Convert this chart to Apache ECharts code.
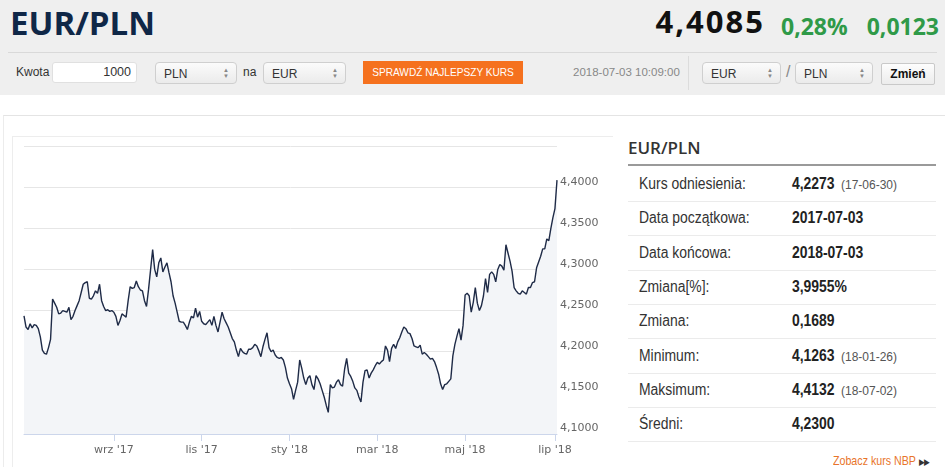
<!DOCTYPE html>
<html>
<head>
<meta charset="utf-8">
<title>EUR/PLN</title>
<script src="https://cdn.jsdelivr.net/npm/echarts/dist/echarts.min.js"></script>
<style>
  body { margin:0; width:945px; height:467px; overflow:hidden; background:#fff; position:relative;
         font-family:"Liberation Sans", Arial, sans-serif; }
  .a { position:absolute; white-space:nowrap; line-height:1; }
  .sq { display:inline-block; transform-origin:0 50%; }
  .sel { position:absolute; box-sizing:border-box; height:22px; border:1px solid #cfcfcf; border-radius:4px;
         background:linear-gradient(#fbfbfb,#ebebeb); font-size:12px; color:#333; }
  .sel span { position:absolute; left:8px; top:4px; }
  .sel i { position:absolute; right:7px; top:4px; font-style:normal; font-size:6px; line-height:6px; color:#888; }
  #panel .row { position:absolute; left:628px; width:308px; height:34px; border-bottom:1px solid #ebebeb; }
  #panel .row b, #panel .row em, #panel .row span { position:absolute; top:50%; transform-origin:0 50%; }
  #panel .row span { left:11px; font-size:16px; color:#333; transform:translateY(-50%) scaleX(0.87); }
  #panel .row b { left:164px; font-size:16px; color:#222; transform:translateY(-50%) scaleX(0.87); }
  #panel .row em { left:213px; font-style:normal; font-size:12.5px; color:#555; transform:translateY(-45%) scaleX(0.96); }
</style>
</head>
<body>
<!-- naglowek -->
<div class="a" style="left:0;top:0;width:945px;height:95px;background:#efefef"></div>
<div class="a" style="left:10px;top:5.5px;font:700 33px/1 'Open Sans';color:#0f2747">EUR/PLN</div>
<div class="a" style="right:180px;top:5.5px;font:700 31px/1 'Open Sans';color:#111;letter-spacing:2px">4,4085</div>
<div class="a" style="left:781px;top:14.5px;font:700 23px/1 'Open Sans';color:#2f9a48">0,28%</div>
<div class="a" style="right:6px;top:14.5px;font:700 23px/1 'Open Sans';color:#2f9a48">0,0123</div>
<div class="a" style="left:8px;top:52px;width:929px;height:1px;background:#d9d9d9"></div>

<div class="a" style="left:16px;top:66px;font-size:12px;color:#333">Kwota</div>
<div class="a" style="left:52px;top:62px;width:85px;height:21px;box-sizing:border-box;background:#fff;border:1px solid #e0e0e0;border-radius:3px"></div>
<div class="a" style="right:814px;top:66px;font-size:12.5px;color:#333">1000</div>
<div class="sel" style="left:155px;top:62px;width:82px"><span>PLN</span><i>▲<br>▼</i></div>
<div class="a" style="left:243px;top:66px;font-size:12px;color:#333">na</div>
<div class="sel" style="left:263px;top:62px;width:83px"><span>EUR</span><i>▲<br>▼</i></div>
<div class="a" style="left:363px;top:61px;width:160px;height:23px;background:#f5711e;color:#fff;font-size:11px;line-height:23px;text-align:center"><span class="sq" style="transform:scaleX(0.92);transform-origin:50% 50%">SPRAWDŹ NAJLEPSZY KURS</span></div>
<div class="a" style="left:573px;top:67px;font-size:11.5px;color:#888">2018-07-03 10:09:00</div>
<div class="a" style="left:688px;top:56px;width:1px;height:34px;background:#dcdcdc"></div>
<div class="sel" style="left:702px;top:62px;width:79px"><span>EUR</span><i>▲<br>▼</i></div>
<div class="a" style="left:786px;top:64px;font-size:16px;color:#888">/</div>
<div class="sel" style="left:795px;top:62px;width:78px"><span>PLN</span><i>▲<br>▼</i></div>
<div class="a" style="left:881px;top:63px;width:54px;height:22px;box-sizing:border-box;border:1px solid #c9c9c9;border-radius:2px;background:linear-gradient(#fdfdfd,#ececec);font-size:12px;font-weight:bold;line-height:20px;text-align:center;color:#111">Zmień</div>

<!-- ramki -->
<div class="a" style="left:3px;top:115px;width:942px;height:360px;border-top:1px solid #e4e4e4;border-left:1px solid #ececec"></div>
<div class="a" style="left:12px;top:136px;width:600px;height:340px;border-top:1px solid #ededed;border-left:1px solid #ededed"></div>

<div id="chart" class="a" style="left:12px;top:136px;width:600px;height:331px"></div>

<!-- tabela -->
<div id="panel">
  <div class="a" style="left:628px;top:139px;font:600 17px/1 'Open Sans';color:#333">EUR/PLN</div>
  <div class="a" style="left:628px;top:164px;width:308px;height:2px;background:#9a9a9a"></div>
</div>
<div class="a" style="left:833px;top:454px;font-size:13px;color:#e8742a"><span class="sq" style="transform:scaleX(0.82)">Zobacz kurs NBP <span style="color:#333;font-size:9px">▶▶</span></span></div>

<script>
// kurs EUR/PLN, dni robocze 2017-07-03 .. 2018-07-03
var startDate = "2017-07-03";
var endDate = "2018-07-03";
var eurPln = [
  4.2435, 4.230, 4.227, 4.234, 4.229, 4.233, 4.232, 4.228, 4.218, 4.202,
  4.198, 4.197, 4.205, 4.215, 4.264, 4.259, 4.254, 4.246, 4.247, 4.250,
  4.249, 4.248, 4.254, 4.239, 4.243, 4.250, 4.256, 4.262, 4.272, 4.282,
  4.284, 4.285, 4.265, 4.264, 4.268, 4.274, 4.271, 4.282, 4.262, 4.255,
  4.250, 4.251, 4.249, 4.250, 4.248, 4.243, 4.232, 4.238, 4.246, 4.244,
  4.242, 4.262, 4.279, 4.277, 4.278, 4.286, 4.279, 4.275, 4.274, 4.262,
  4.255, 4.276, 4.300, 4.324, 4.300, 4.291, 4.308, 4.314, 4.297, 4.303,
  4.308, 4.296, 4.285, 4.268, 4.259, 4.248, 4.237, 4.236, 4.236, 4.232,
  4.227, 4.236, 4.243, 4.241, 4.253, 4.242, 4.249, 4.237, 4.234, 4.233,
  4.236, 4.239, 4.232, 4.243, 4.232, 4.224, 4.236, 4.248, 4.240, 4.235,
  4.230, 4.223, 4.216, 4.212, 4.202, 4.194, 4.204, 4.200, 4.198, 4.197,
  4.203, 4.203, 4.205, 4.209, 4.207, 4.201, 4.194, 4.206, 4.215, 4.223,
  4.205, 4.200, 4.202, 4.196, 4.193, 4.192, 4.193, 4.190, 4.181, 4.168,
  4.161, 4.155, 4.142, 4.153, 4.163, 4.190, 4.180, 4.168, 4.160, 4.168,
  4.171, 4.160, 4.154, 4.171, 4.167, 4.161, 4.153, 4.145, 4.135, 4.1263,
  4.160, 4.156, 4.157, 4.163, 4.166, 4.160, 4.158, 4.179, 4.192, 4.174,
  4.170, 4.164, 4.156, 4.153, 4.145, 4.139, 4.163, 4.177, 4.178, 4.168,
  4.174, 4.178, 4.183, 4.187, 4.185, 4.188, 4.190, 4.207, 4.202, 4.188,
  4.204, 4.209, 4.204, 4.212, 4.217, 4.224, 4.230, 4.228, 4.223, 4.222,
  4.216, 4.207, 4.206, 4.205, 4.208, 4.197, 4.199, 4.197, 4.194, 4.191,
  4.192, 4.188, 4.181, 4.173, 4.161, 4.154, 4.160, 4.161, 4.164, 4.167,
  4.195, 4.209, 4.219, 4.228, 4.214, 4.232, 4.269, 4.271, 4.268, 4.248,
  4.260, 4.278, 4.259, 4.250, 4.256, 4.268, 4.289, 4.272, 4.294, 4.297,
  4.294, 4.285, 4.300, 4.306, 4.304, 4.299, 4.330, 4.320, 4.310, 4.298,
  4.278, 4.274, 4.271, 4.270, 4.274, 4.272, 4.270, 4.278, 4.278, 4.284,
  4.285, 4.302, 4.309, 4.316, 4.325, 4.325, 4.337, 4.335, 4.350, 4.363,
  4.374, 4.4085
];
var tickDates = ["2017-09-01", "2017-11-01", "2018-01-01", "2018-03-01", "2018-05-01", "2018-07-02"];
var tickLabels = ["wrz '17", "lis '17", "sty '18", "mar '18", "maj '18", "lip '18"];
var statLabels = ["Kurs odniesienia:", "Data początkowa:", "Data końcowa:", "Zmiana[%]:", "Zmiana:", "Minimum:", "Maksimum:", "Średni:"];
var statValues = ["4,2273", "2017-07-03", "2018-07-03", "3,9955%", "0,1689", "4,1263", "4,4132", "4,2300"];
var statDates = ["(17-06-30)", "", "", "", "", "(18-01-26)", "(18-07-02)", ""];

// daty - tylko dni robocze (os porzadkowa jak w highstock)
var dates = [];
var d = new Date(startDate + "T12:00:00Z");
var end = new Date(endDate + "T12:00:00Z");
while (d <= end) {
  var wd = d.getUTCDay();
  if (wd !== 0 && wd !== 6) dates.push(d.toISOString().slice(0, 10));
  d.setUTCDate(d.getUTCDate() + 1);
}

// tabela po prawej
var panel = document.getElementById("panel");
statLabels.forEach(function (lab, i) {
  var row = document.createElement("div");
  row.className = "row";
  row.style.top = (167 + i * 34.3) + "px";
  row.innerHTML = "<span>" + lab + "</span><b>" + statValues[i] + "</b>" + (statDates[i] ? "<em>" + statDates[i] + "</em>" : "");
  panel.appendChild(row);
});

function isTick(idx, val) {
  return tickDates.indexOf(val) >= 0;
}

var chart = echarts.init(document.getElementById("chart"));
chart.setOption({
  animation: false,
  grid: { left: 12, right: 55, top: 10, bottom: 33 },
  xAxis: {
    type: "category",
    data: dates,
    boundaryGap: false,
    axisLine: { lineStyle: { color: "#ccd6eb" } },
    axisTick: { show: true, length: 7, interval: isTick, lineStyle: { color: "#ccd6eb" } },
    axisLabel: {
      interval: isTick,
      margin: 11,
      color: "#666",
      fontFamily: "DejaVu Sans",
      fontSize: 11,
      formatter: function (v) { return tickLabels[tickDates.indexOf(v)]; }
    },
    splitLine: { show: false }
  },
  yAxis: {
    type: "value",
    position: "right",
    min: 4.10,
    max: 4.45,
    interval: 0.05,
    axisLine: { show: false },
    axisTick: { show: false },
    axisLabel: {
      margin: 3,
      color: "#666",
      fontFamily: "DejaVu Sans",
      fontSize: 11,
      verticalAlign: "bottom",
      formatter: function (v) {
        if (Math.abs(v - 4.45) < 1e-6) return "";
        return v.toFixed(4).replace(".", ",");
      }
    },
    splitLine: { lineStyle: { color: "#e6e6e6" } }
  },
  series: [{
    type: "line",
    data: eurPln,
    symbol: "none",
    lineStyle: { color: "#1f2b47", width: 1.4 },
    areaStyle: { color: "#f3f5f8", origin: "start", opacity: 1 }
  }]
});
</script>
</body>
</html>
